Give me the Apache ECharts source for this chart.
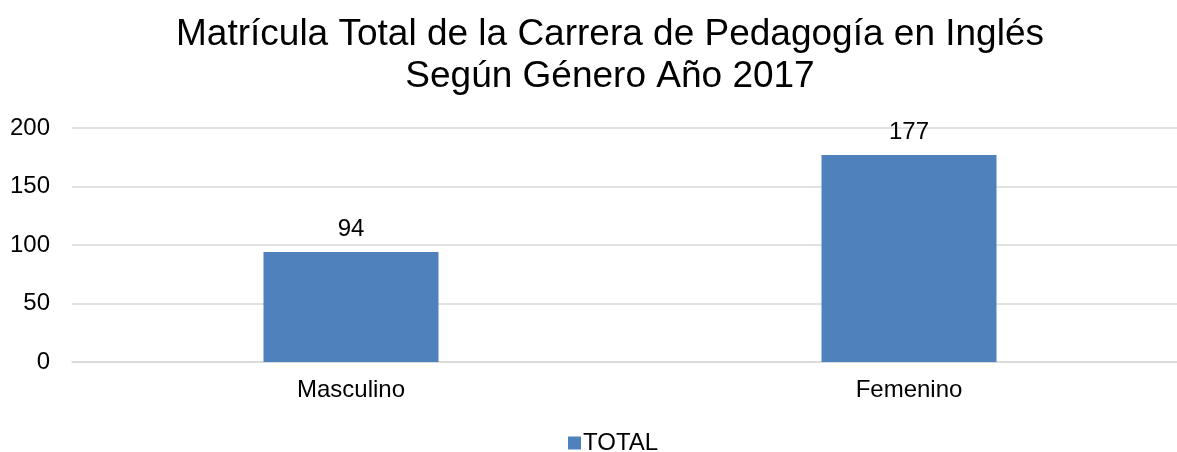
<!DOCTYPE html>
<html>
<head>
<meta charset="utf-8">
<script src="https://cdn.jsdelivr.net/npm/echarts@6/dist/echarts.min.js"></script>
<style>html,body{margin:0;padding:0;background:#fff;}#c{width:1177px;height:452px;}</style>
</head>
<body>
<div id="c"></div>
<script>
var titleText = 'Matrícula Total de la Carrera de Pedagogía en Inglés\nSegún Género Año 2017';
var categories = ['Masculino', 'Femenino'];
var seriesName = 'TOTAL';
var values = [94, 177];
var yMin = 0, yMax = 200, yInterval = 50;

var chart = echarts.init(document.getElementById('c'));
var font = 'Liberation Sans, Arial, sans-serif';
chart.setOption({
  animation: false,
  backgroundColor: '#fff',
  title: {
    text: titleText,
    left: 605,
    top: 9,
    textAlign: 'center',
    textStyle: { fontFamily: font, fontSize: 37, fontWeight: 'normal', color: '#000', lineHeight: 42 }
  },
  legend: {
    data: [seriesName],
    left: 563,
    top: 426,
    itemWidth: 13,
    itemHeight: 13,
    itemGap: 10,
    icon: 'rect',
    textStyle: { fontFamily: font, fontSize: 24, color: '#000', padding: [0, 0, 0, -3] }
  },
  grid: { left: 72, width: 1116, top: 128, height: 234, containLabel: false, outerBoundsMode: 'none' },
  xAxis: {
    type: 'category',
    data: categories,
    axisLine: { show: true, lineStyle: { color: '#d9d9d9', width: 1.5 } },
    axisTick: { show: false },
    axisLabel: { fontFamily: font, fontSize: 24, color: '#000', margin: 16 }
  },
  yAxis: {
    type: 'value',
    min: yMin, max: yMax, interval: yInterval,
    axisLine: { show: false },
    axisTick: { show: false },
    splitLine: { lineStyle: { color: '#d9d9d9', width: 1.5 } },
    axisLabel: { fontFamily: font, fontSize: 24, color: '#000', margin: 22 }
  },
  series: [{
    name: seriesName,
    type: 'bar',
    data: values,
    barWidth: 175,
    itemStyle: { color: '#4f81bd' },
    label: { show: true, position: 'top', distance: 11, fontFamily: font, fontSize: 24, color: '#000' }
  }]
});
</script>
</body>
</html>
